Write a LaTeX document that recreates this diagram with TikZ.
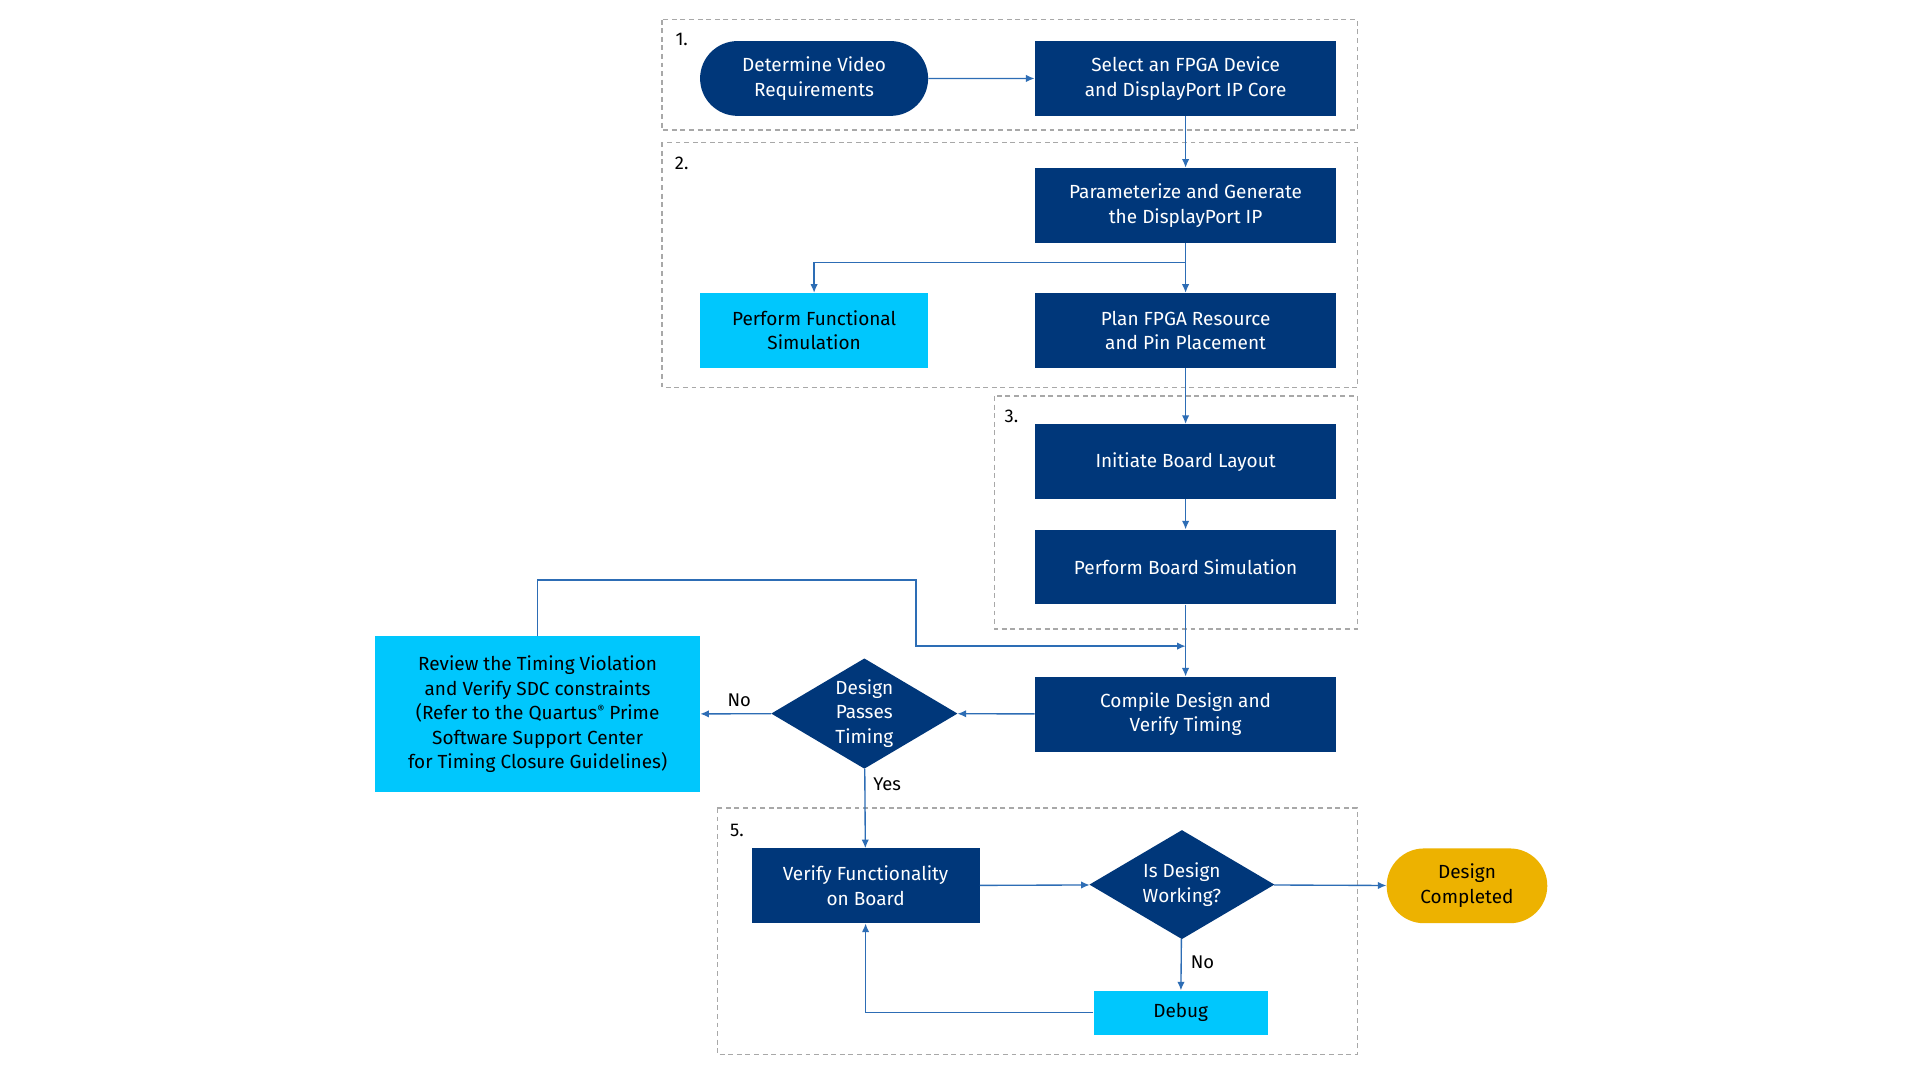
\documentclass[tikz,border=0pt]{standalone}
\usepackage{fontspec}
\setmainfont{Fira Sans}
\usepackage{tikz}
\usetikzlibrary{arrows.meta,shapes.geometric,shapes.misc,positioning,calc}
\definecolor{navy}{HTML}{00377A}
\definecolor{sky}{HTML}{00C7FD}
\definecolor{gold}{HTML}{EDB200}
\definecolor{flowblue}{HTML}{2D6DB5}
\definecolor{framegray}{HTML}{A8A8A8}
\newcommand{\regmark}{\raisebox{5pt}{\fontsize{9}{9}\selectfont ®}}
\tikzset{
    flow/.style={-{Latex[length=7pt, width=6pt]}, line width=1.1pt, flowblue},
    darkbox/.style={rectangle, fill=navy, text=white, minimum width=246pt, minimum height=61pt, align=center, inner sep=0pt},
    lightbox/.style={rectangle, fill=sky, text=black, minimum width=186pt, minimum height=61pt, align=center, inner sep=0pt},
    pill/.style={rounded rectangle, minimum width=186pt, minimum height=61pt, align=center, inner sep=0pt},
    check/.style={diamond, fill=navy, text=white, aspect=1.7, inner sep=0pt, align=center},
    frame/.style={framegray, dashed, dash pattern=on 4pt off 3pt, line width=1.1pt},
    steplabel/.style={anchor=center, font=\fontsize{15}{18}\selectfont},
    edgelabel/.style={text=black, font=\fontsize{15}{18}\selectfont}
}

\begin{document}
\begin{tikzpicture}[x=1pt, y=-1pt, font=\fontsize{15.5}{20}\selectfont]
    \useasboundingbox[fill=white] (0,0) rectangle (1566,881);
    % dashed phase frames
    \draw[frame] (540,16) rectangle (1107,106);
    \draw[frame] (540,116) rectangle (1107,316);
    \draw[frame] (811,323) rectangle (1107,513);
    \draw[frame] (585,659) rectangle (1107,860);
    \node[steplabel] (s1) at (556,32) {1.};
    \node[steplabel] (s2) at (556,133) {2.};
    \node[steplabel] (s3) at (825,340) {3.};
    \node[steplabel] (s5) at (601,677) {5.};

    % phase 1 and 2
    \node[pill, fill=navy, text=white] (req) at (664,64) {Determine Video\\Requirements};
    \node[darkbox] (sel) at (967,64) {Select an FPGA Device\\and DisplayPort IP Core};
    \node[darkbox] (par) at (967,167.5) {Parameterize and Generate\\the DisplayPort IP};
    \node[lightbox] (fun) at (664,269.5) {Perform Functional\\Simulation};
    \node[darkbox] (plan) at (967,269.5) {Plan FPGA Resource\\and Pin Placement};

    % phase 3
    \node[darkbox] (lay) at (967,376.5) {Initiate Board Layout};
    \node[darkbox] (bsim) at (967,462.5) {Perform Board Simulation};

    % timing
    \node[darkbox] (comp) at (967,582.5) {Compile Design and\\Verify Timing};
    \node[check, minimum width=152pt, minimum height=90pt] (pass) at (705,582) {Design\\Passes\\Timing};
    \node[lightbox, minimum width=265pt, minimum height=127pt] (rev) at (438.5,582.5) {Review the Timing Violation\\and Verify SDC constraints\\(Refer to the Quartus\regmark{} Prime\\Software Support Center\\for Timing Closure Guidelines)};

    % phase 5
    \node[darkbox, minimum width=186pt] (ver) at (706,722.5) {Verify Functionality\\on Board};
    \node[check, minimum width=151pt, minimum height=89pt] (work) at (964,721.5) {Is Design\\Working?};
    \node[pill, fill=gold, text=black, minimum width=131pt] (done) at (1196.5,722.5) {Design\\Completed};
    \node[lightbox, minimum width=142pt, minimum height=36pt] (dbg) at (963,826) {Debug};

    \coordinate (split) at (967,214);
    \coordinate (loop) at (747,473);
    \coordinate (merge) at (967,527);

    \draw[flow] (req) -- (sel);
    \draw[flow] (sel) -- (par);
    \draw[line width=1.1pt, flowblue] (par) -- (split);
    \draw[flow] (split) -| (fun);
    \draw[flow] (split) -- (plan);
    \draw[flow] (plan) -- (lay);
    \draw[flow] (lay) -- (bsim);
    \draw[flow] (bsim) -- (comp);
    \draw[flow] (rev.north) |- (loop) |- (merge);
    \draw[flow] (comp) -- (pass);
    \draw[flow] (pass) -- node[edgelabel, above, pos=0.45, yshift=2pt] {No} (rev);
    \draw[flow] (pass) -- node[edgelabel, right, pos=0.2, xshift=3pt] {Yes} (ver);
    \draw[flow] (ver) -- (work);
    \draw[flow] (work) -- (done);
    \draw[flow] (work) -- node[edgelabel, right, pos=0.45, xshift=4pt] {No} (dbg);
    \draw[flow] (dbg.west) -| (ver.south);
\end{tikzpicture}
\end{document}
